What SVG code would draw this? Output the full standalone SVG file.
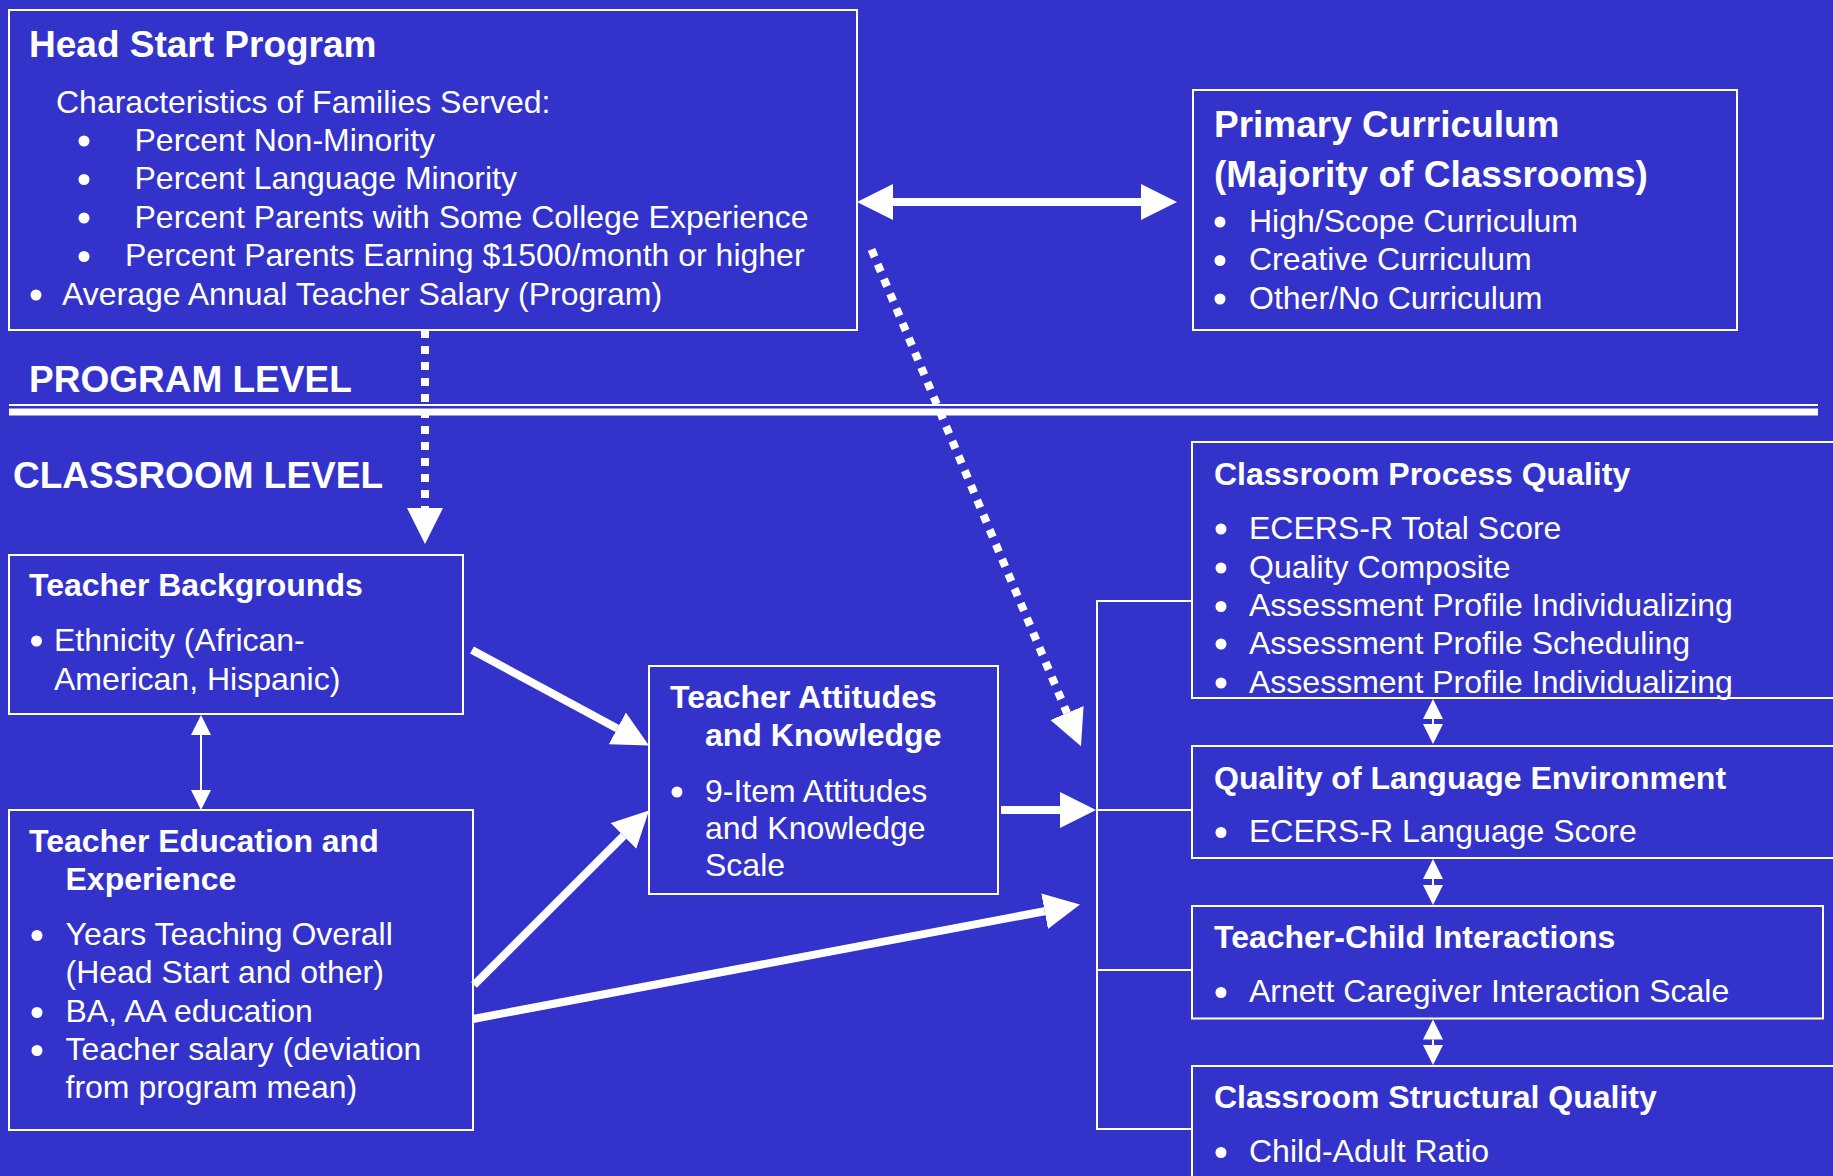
<svg xmlns="http://www.w3.org/2000/svg" width="1833" height="1176" viewBox="0 0 1833 1176">
<defs>
<style>
.t{font-family:"Liberation Sans",Arial,sans-serif;fill:#fff;}
.h37{font-size:37px;font-weight:bold;}
.h32{font-size:32px;font-weight:bold;}
.b32{font-size:32px;}
.box{fill:none;stroke:#fff;stroke-width:2;}
.thick{stroke:#fff;stroke-width:8;fill:none;}
.dot{stroke:#fff;stroke-width:8;fill:none;stroke-dasharray:8 8;}
.thin{stroke:#fff;stroke-width:2;fill:none;}
.bullets circle{fill:#fff;}
</style>
<marker id="big" markerUnits="userSpaceOnUse" markerWidth="37" markerHeight="37" refX="0" refY="18" orient="auto-start-reverse" viewBox="0 0 37 37">
<path d="M0,0 L36,18 L0,36 Z" fill="#fff"/>
</marker>
<marker id="small" markerUnits="userSpaceOnUse" markerWidth="21" markerHeight="21" refX="0" refY="10" orient="auto-start-reverse" viewBox="0 0 21 21">
<path d="M0,0 L20,10 L0,20 Z" fill="#fff"/>
</marker>
</defs>
<rect x="0" y="0" width="1833" height="1176" fill="#3333CC"/>

<g id="level-divider">
<rect x="9" y="404" width="1809" height="2" fill="#fff"/>
<rect x="9" y="408.5" width="1809" height="7" fill="#fff"/>
<text class="t h37" x="29" y="392">PROGRAM LEVEL</text>
<text class="t h37" x="13" y="487.5">CLASSROOM LEVEL</text>
</g>

<g id="connectors">
<line class="thick" x1="893" y1="202" x2="1141" y2="202" marker-start="url(#big)" marker-end="url(#big)"/>
<line class="dot" x1="425" y1="330" x2="425" y2="508" marker-end="url(#big)"/>
<line class="dot" x1="871.5" y1="249.5" x2="1067" y2="713" marker-end="url(#big)"/>
<line class="thick" x1="472" y1="650" x2="617.3" y2="728.4" marker-end="url(#big)"/>
<line class="thick" x1="474" y1="985" x2="623.5" y2="835.9" marker-end="url(#big)"/>
<line class="thick" x1="473" y1="1019" x2="1044.6" y2="911.2" marker-end="url(#big)"/>
<line class="thick" x1="1001" y1="810" x2="1060" y2="810" marker-end="url(#big)"/>
<line class="thin" x1="201" y1="735" x2="201" y2="790" marker-start="url(#small)" marker-end="url(#small)"/>
<path class="thin" d="M1192,601 H1097 V1129 H1192 M1097,810 H1192 M1097,970 H1192"/>
<line class="thin" x1="1433" y1="719" x2="1433" y2="724" marker-start="url(#small)" marker-end="url(#small)"/>
<line class="thin" x1="1433" y1="879" x2="1433" y2="885" marker-start="url(#small)" marker-end="url(#small)"/>
<line class="thin" x1="1433" y1="1039.5" x2="1433" y2="1045" marker-start="url(#small)" marker-end="url(#small)"/>
</g>

<g id="head-start-program">
<rect class="box" x="9" y="10" width="848" height="320"/>
<text class="t h37" x="29" y="57">Head Start Program</text>
<text class="t b32" x="56" y="112.5">Characteristics of Families Served:</text>
<g class="bullets">
<circle cx="84" cy="141" r="5.5"/>
<circle cx="84" cy="179.5" r="5.5"/>
<circle cx="84" cy="218" r="5.5"/>
<circle cx="84" cy="256.5" r="5.5"/>
<circle cx="36" cy="295" r="5.5"/>
</g>
<text class="t b32" x="134.5" y="150.5">Percent Non-Minority</text>
<text class="t b32" x="134.5" y="189">Percent Language Minority</text>
<text class="t b32" x="134.5" y="227.5">Percent Parents with Some College Experience</text>
<text class="t b32" x="125" y="266">Percent Parents Earning $1500/month or higher</text>
<text class="t b32" x="62" y="304.5">Average Annual Teacher Salary (Program)</text>
</g>

<g id="primary-curriculum">
<rect class="box" x="1193" y="90" width="544" height="240"/>
<text class="t h37" x="1214" y="137">Primary Curriculum</text>
<text class="t h37" x="1214" y="187">(Majority of Classrooms)</text>
<g class="bullets">
<circle cx="1220" cy="222" r="5.5"/>
<circle cx="1220" cy="260.5" r="5.5"/>
<circle cx="1220" cy="299" r="5.5"/>
</g>
<text class="t b32" x="1249" y="231.5">High/Scope Curriculum</text>
<text class="t b32" x="1249" y="270">Creative Curriculum</text>
<text class="t b32" x="1249" y="308.5">Other/No Curriculum</text>
</g>

<g id="teacher-backgrounds">
<rect class="box" x="9" y="555" width="454" height="159"/>
<text class="t h32" x="29" y="596">Teacher Backgrounds</text>
<g class="bullets"><circle cx="36.5" cy="641" r="5.5"/></g>
<text class="t b32" x="54" y="650.5">Ethnicity (African-</text>
<text class="t b32" x="54" y="690">American, Hispanic)</text>
</g>

<g id="teacher-education">
<rect class="box" x="9" y="810" width="464" height="320"/>
<text class="t h32" x="29" y="852">Teacher Education and</text>
<text class="t h32" x="65.5" y="890">Experience</text>
<g class="bullets">
<circle cx="37" cy="935.5" r="5.5"/>
<circle cx="37" cy="1012.5" r="5.5"/>
<circle cx="37" cy="1050.5" r="5.5"/>
</g>
<text class="t b32" x="65.5" y="945">Years Teaching Overall</text>
<text class="t b32" x="65.5" y="983">(Head Start and other)</text>
<text class="t b32" x="65.5" y="1022">BA, AA education</text>
<text class="t b32" x="65.5" y="1060">Teacher salary (deviation</text>
<text class="t b32" x="65.5" y="1098">from program mean)</text>
</g>

<g id="teacher-attitudes">
<rect class="box" x="649" y="666" width="349" height="228"/>
<text class="t h32" x="670" y="708">Teacher Attitudes</text>
<text class="t h32" x="705" y="745.5">and Knowledge</text>
<g class="bullets"><circle cx="677" cy="792" r="5.5"/></g>
<text class="t b32" x="705" y="801.5">9-Item Attitudes</text>
<text class="t b32" x="705" y="839">and Knowledge</text>
<text class="t b32" x="705" y="876">Scale</text>
</g>

<g id="classroom-process-quality">
<rect class="box" x="1192" y="442" width="700" height="256"/>
<text class="t h32" x="1214" y="484.5">Classroom Process Quality</text>
<g class="bullets">
<circle cx="1221" cy="529" r="5.5"/>
<circle cx="1221" cy="568" r="5.5"/>
<circle cx="1221" cy="606.5" r="5.5"/>
<circle cx="1221" cy="644" r="5.5"/>
<circle cx="1221" cy="683" r="5.5"/>
</g>
<text class="t b32" x="1249" y="538.5">ECERS-R Total Score</text>
<text class="t b32" x="1249" y="577.5">Quality Composite</text>
<text class="t b32" x="1249" y="616">Assessment Profile Individualizing</text>
<text class="t b32" x="1249" y="653.5">Assessment Profile Scheduling</text>
<text class="t b32" x="1249" y="692.5">Assessment Profile Individualizing</text>
</g>

<g id="quality-language-environment">
<rect class="box" x="1192" y="746" width="700" height="112"/>
<text class="t h32" x="1214" y="788.5">Quality of Language Environment</text>
<g class="bullets"><circle cx="1221" cy="832.5" r="5.5"/></g>
<text class="t b32" x="1249" y="842">ECERS-R Language Score</text>
</g>

<g id="teacher-child-interactions">
<rect class="box" x="1192" y="906" width="631" height="112.5"/>
<text class="t h32" x="1214" y="948">Teacher-Child Interactions</text>
<g class="bullets"><circle cx="1221" cy="992.5" r="5.5"/></g>
<text class="t b32" x="1249" y="1002">Arnett Caregiver Interaction Scale</text>
</g>

<g id="classroom-structural-quality">
<rect class="box" x="1192" y="1066" width="700" height="200"/>
<text class="t h32" x="1214" y="1108">Classroom Structural Quality</text>
<g class="bullets"><circle cx="1221" cy="1152.5" r="5.5"/></g>
<text class="t b32" x="1249" y="1162">Child-Adult Ratio</text>
</g>
</svg>
